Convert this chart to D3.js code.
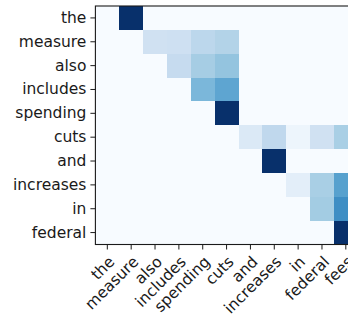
<!DOCTYPE html>
<html>
<head>
<meta charset="utf-8">
<script src="https://cdn.jsdelivr.net/npm/d3@7"></script>
<style>
  html, body { margin: 0; padding: 0; background: #fff; overflow: hidden; }
  svg { display: block; }
  text { font-family: "DejaVu Sans", sans-serif; fill: #1a1a1a; }
</style>
</head>
<body>
<svg id="chart" width="348" height="319"></svg>
<script>
// Row (query) tokens
const rowLabels = ["the", "measure", "also", "includes", "spending", "cuts", "and", "increases", "in", "federal"];
// Column (key) tokens
const colLabels = ["the", "measure", "also", "includes", "spending", "cuts", "and", "increases", "in", "federal", "fees"];
// Attention weights, one array per row
const weights = [
  [0, 1.00, 0, 0, 0, 0, 0, 0, 0, 0, 0],
  [0, 0, 0.20, 0.21, 0.28, 0.31, 0, 0, 0, 0, 0],
  [0, 0, 0, 0.25, 0.35, 0.40, 0, 0, 0, 0, 0],
  [0, 0, 0, 0, 0.46, 0.54, 0, 0, 0, 0, 0],
  [0, 0, 0, 0, 0, 1.00, 0, 0, 0, 0, 0],
  [0, 0, 0, 0, 0, 0, 0.14, 0.27, 0.05, 0.20, 0.34],
  [0, 0, 0, 0, 0, 0, 0, 1.00, 0, 0, 0],
  [0, 0, 0, 0, 0, 0, 0, 0, 0.10, 0.34, 0.56],
  [0, 0, 0, 0, 0, 0, 0, 0, 0, 0.36, 0.64],
  [0, 0, 0, 0, 0, 0, 0, 0, 0, 0, 1.00]
];

const cellSize = 23.85;
const marginLeft = 95.4, marginTop = 6;
const W = cellSize * colLabels.length, H = cellSize * rowLabels.length;
const fontSize = "15.5px";

const svg = d3.select("#chart");

// matplotlib "Blues"
const bluesStops = ["#f7fbff","#deebf7","#c6dbef","#9ecae1","#6baed6","#4292c6","#2171b5","#08519c","#08306b"];
const color = d3.scaleLinear()
  .domain(d3.range(bluesStops.length).map(i => i / (bluesStops.length - 1)))
  .range(bluesStops)
  .interpolate(d3.interpolateRgb)
  .clamp(true);

const x = d3.scaleBand().domain(colLabels.map((d, i) => i)).range([0, W]).padding(0);
const y = d3.scaleBand().domain(rowLabels.map((d, i) => i)).range([0, H]).padding(0);

const g = svg.append("g").attr("transform", `translate(${marginLeft},${marginTop})`);

const cells = [];
weights.forEach((row, r) => row.forEach((v, c) => cells.push({ r, c, v })));

g.selectAll("rect.cell").data(cells).enter().append("rect")
  .attr("class", "cell")
  .attr("x", d => x(d.c))
  .attr("y", d => y(d.r))
  .attr("width", x.bandwidth() + 0.3)
  .attr("height", y.bandwidth() + 0.3)
  .attr("fill", d => color(d.v))
  .attr("shape-rendering", "crispEdges");

// frame
g.append("rect")
  .attr("x", 0).attr("y", 0).attr("width", W).attr("height", H)
  .attr("fill", "none").attr("stroke", "#1a1a1a").attr("stroke-width", 1.1);

// Y axis
const yAxis = d3.axisLeft(y).tickSize(5).tickPadding(4).tickFormat(i => rowLabels[i]);
const ya = g.append("g").call(yAxis);
ya.select(".domain").remove();
ya.selectAll(".tick line").attr("stroke", "#1a1a1a").attr("stroke-width", 1);
ya.selectAll(".tick text").attr("font-size", fontSize).attr("fill", "#1a1a1a")
  .attr("font-family", "DejaVu Sans, sans-serif");

// X axis
const xAxis = d3.axisBottom(x).tickSize(5).tickPadding(5).tickFormat(i => colLabels[i]);
const xa = g.append("g").attr("transform", `translate(0,${H})`).call(xAxis);
xa.select(".domain").remove();
xa.selectAll(".tick line").attr("stroke", "#1a1a1a").attr("stroke-width", 1);
xa.selectAll(".tick text")
  .attr("font-size", fontSize).attr("fill", "#1a1a1a")
  .attr("font-family", "DejaVu Sans, sans-serif")
  .attr("text-anchor", "end")
  .attr("y", 0).attr("dy", 0)
  .attr("transform", "translate(0,10) rotate(-45) translate(0,11.6)");
</script>
</body>
</html>
